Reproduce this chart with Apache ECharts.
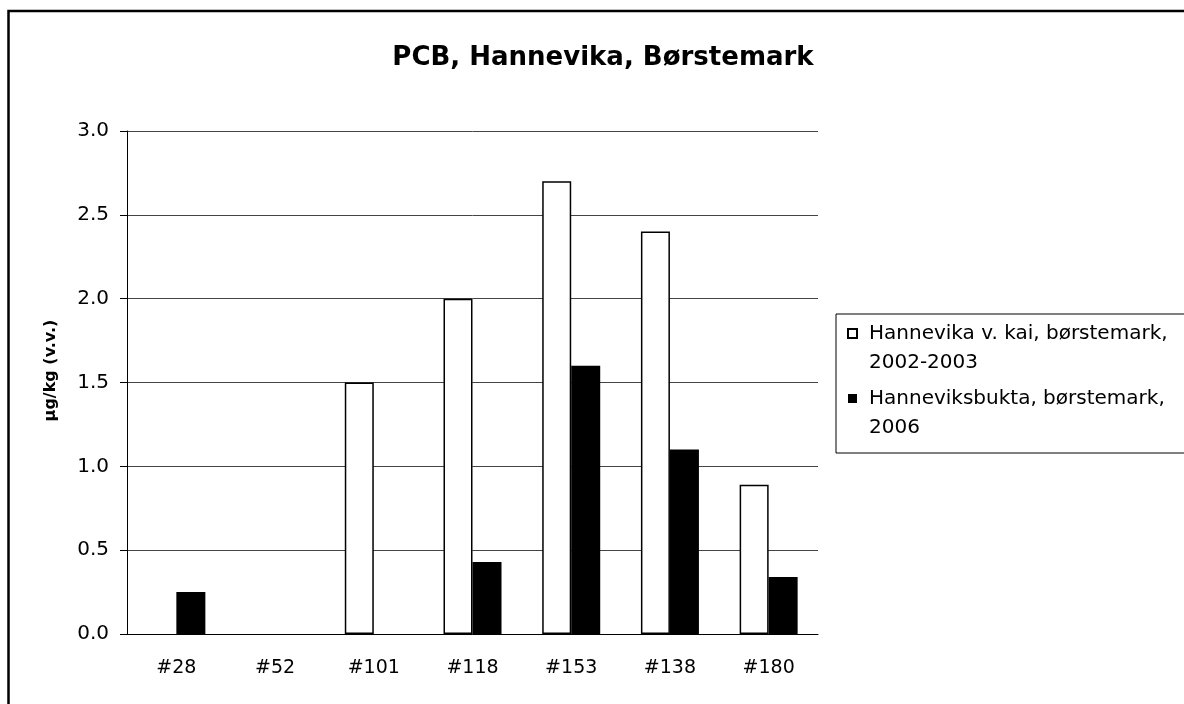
<!DOCTYPE html>
<html>
<head>
<meta charset="utf-8">
<script src="https://cdn.jsdelivr.net/npm/echarts@6/dist/echarts.min.js"></script>
<style>
html,body{margin:0;padding:0;background:#fff;}
#chart{width:1184px;height:704px;}
</style>
</head>
<body>
<div id="chart"></div>
<script>
const categories = ['#28', '#52', '#101', '#118', '#153', '#138', '#180'];
const kai2002 = [null, null, 1.5, 2.0, 2.7, 2.4, 0.89];
const bukta2006 = [0.25, null, null, 0.43, 1.6, 1.1, 0.34];
const seriesNames = ['Hannevika v. kai, børstemark,\n2002-2003', 'Hanneviksbukta, børstemark,\n2006'];
const yTicks = { min: 0, max: 3, step: 0.5 };

const font = 'DejaVu Sans';
const chart = echarts.init(document.getElementById('chart'));

const options = {
    animation: false,
    backgroundColor: '#fff',
    textStyle: { fontFamily: font, color: '#000' },
    title: {
        text: 'PCB, Hannevika, Børstemark',
        left: 598,
        top: 40,
        textAlign: 'center',
        textStyle: { fontFamily: font, fontSize: 26, fontWeight: 'bold', color: '#000' }
    },
    // outer frame, only left and top edges are visible
    graphic: [{
        type: 'rect',
        silent: true,
        shape: { x: 8.5, y: 11, width: 1400, height: 900 },
        style: { fill: 'none', stroke: '#000', lineWidth: 2.5 }
    }],
    legend: {
        orient: 'vertical',
        left: 836,
        top: 314,
        padding: [4, 30, 11, 11],
        itemGap: 6,
        itemWidth: 16,
        itemHeight: 58,
        icon: 'path://M0,0M0,10L9,10L9,19L0,19ZM16,58',
        borderColor: '#000',
        borderWidth: 1,
        textStyle: { fontFamily: font, fontSize: 20, lineHeight: 29, color: '#000' },
        data: seriesNames
    },
    grid: {
        left: 127,
        right: 366,
        top: 131,
        bottom: 70,
        containLabel: false,
        outerBoundsMode: 'none'
    },
    xAxis: {
        type: 'category',
        data: categories,
        axisLine: { lineStyle: { color: '#000', width: 1 } },
        axisTick: { length: 7, alignWithLabel: false, lineStyle: { color: '#000' } },
        axisLabel: { margin: 25, fontSize: 19, color: '#000', fontFamily: font }
    },
    yAxis: {
        type: 'value',
        min: yTicks.min,
        max: yTicks.max,
        interval: yTicks.step,
        name: 'µg/kg (v.v.)',
        nameLocation: 'middle',
        nameGap: 68,
        nameTextStyle: { fontFamily: font, fontSize: 16, fontWeight: 'bold', color: '#000', padding: [0, 0, 0, 24] },
        axisLine: { show: true, lineStyle: { color: '#000', width: 1 } },
        axisTick: { show: true, length: 7, lineStyle: { color: '#000' } },
        axisLabel: {
            margin: 18,
            fontSize: 20,
            color: '#000',
            fontFamily: font,
            formatter: (v) => v.toFixed(1)
        },
        splitLine: { lineStyle: { color: '#444', width: 1 } }
    },
    series: [
        {
            name: seriesNames[0],
            type: 'bar',
            data: kai2002,
            barWidth: 29,
            barGap: '0%',
            itemStyle: { color: '#fff', borderColor: '#000', borderWidth: 1.5 }
        },
        {
            name: seriesNames[1],
            type: 'bar',
            data: bukta2006,
            barWidth: 29,
            barGap: '0%',
            itemStyle: { color: '#000', borderColor: '#000', borderWidth: 0 }
        }
    ]
};
chart.setOption(options);
</script>
</body>
</html>
